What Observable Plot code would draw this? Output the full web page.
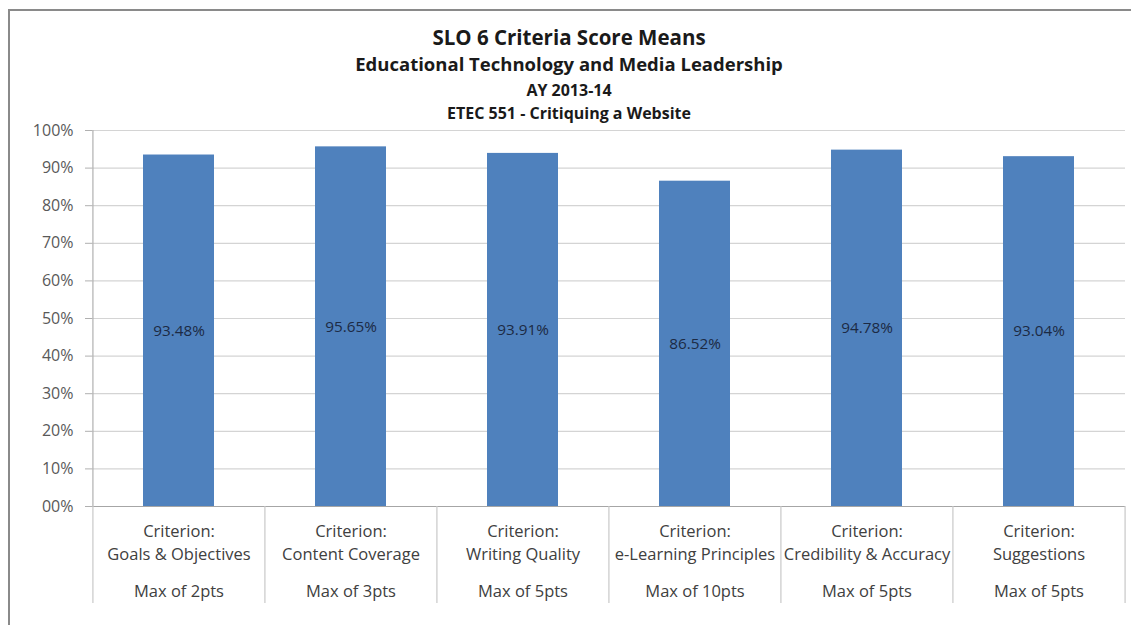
<!DOCTYPE html>
<html>
<head>
<meta charset="utf-8">
<script src="https://cdn.jsdelivr.net/npm/d3@7"></script>
<script src="https://cdn.jsdelivr.net/npm/@observablehq/plot@0.6"></script>
<style>
  html, body { margin: 0; padding: 0; background: #fff; }
  #wrap { position: relative; width: 1131px; height: 625px; overflow: hidden; font-family: "Open Sans", sans-serif; }
  #frame { position: absolute; left: 8px; top: 9px; width: 1200px; height: 700px; border-left: 2px solid #8a8a8a; border-top: 2px solid #8a8a8a; box-sizing: border-box; }
  .t { position: absolute; left: 0; width: 1138px; text-align: center; font-weight: bold; color: #1a1a1a; white-space: nowrap; line-height: 1; }
  #chart { position: absolute; left: 0; top: 0; }
</style>
</head>
<body>
<div id="wrap">
  <div id="frame"></div>
  <div id="chart"></div>
  <div class="t" style="top:27px;font-size:20.5px;">SLO 6 Criteria Score Means</div>
  <div class="t" style="top:55px;font-size:18.5px;">Educational Technology and Media Leadership</div>
  <div class="t" style="top:82px;font-size:16px;">AY 2013-14</div>
  <div class="t" style="top:105px;font-size:16px;">ETEC 551 - Critiquing a Website</div>
</div>
<script>
const criteria = ["Goals & Objectives", "Content Coverage", "Writing Quality", "e-Learning Principles", "Credibility & Accuracy", "Suggestions"];
const maxPoints = ["Max of 2pts", "Max of 3pts", "Max of 5pts", "Max of 10pts", "Max of 5pts", "Max of 5pts"];
const means = [0.9348, 0.9565, 0.9391, 0.8652, 0.9478, 0.9304];
const yTicks = [0, 0.1, 0.2, 0.3, 0.4, 0.5, 0.6, 0.7, 0.8, 0.9, 1.0];
const yTickLabels = ["00%", "10%", "20%", "30%", "40%", "50%", "60%", "70%", "80%", "90%", "100%"];

const data = criteria.map((c, i) => ({criterion: c, max: maxPoints[i], value: means[i]}));

const W = 1131, H = 625;
const mL = 92, mR = 6, mT = 130, mB = 119;
const step = (W - mL - mR) / criteria.length;
const belowDepth = -0.258; // extent of category dividers below the axis, in y units
const font = "'Open Sans', sans-serif";

const plot = Plot.plot({
  width: W,
  height: H,
  marginLeft: mL,
  marginRight: mR,
  marginTop: mT,
  marginBottom: mB,
  style: {fontFamily: font, background: "transparent", overflow: "visible"},
  x: {type: "band", domain: criteria, paddingInner: 0.59, paddingOuter: 0.295, axis: null},
  y: {domain: [0, 1], axis: null},
  marks: [
    Plot.ruleY(yTicks.slice(1), {stroke: "#d4d4d4", strokeWidth: 1.2}),
    Plot.barY(data, {x: "criterion", y: "value", fill: "#4f81bd"}),
    Plot.ruleY([0], {stroke: "#a6a6a6", strokeWidth: 1.2}),
    // category dividers (left edges) + final right edge
    Plot.ruleX(data, {x: "criterion", y1: 0, y2: belowDepth, dx: -step / 2, stroke: "#c8c8c8", strokeWidth: 1.2}),
    Plot.ruleX([criteria[criteria.length - 1]], {x: d => d, y1: 0, y2: belowDepth, dx: step / 2, stroke: "#c8c8c8", strokeWidth: 1.2}),
    // y axis line
    Plot.ruleX([criteria[0]], {x: d => d, y1: 0, y2: 1, dx: -step / 2, stroke: "#b0b0b0", strokeWidth: 1.2}),
    Plot.axisY({ticks: yTicks, tickFormat: (d, i) => yTickLabels[i], tickSize: 7, tickPadding: 12, fontSize: 16, color: "#595959", stroke: "#b0b0b0", label: null}),
    // data labels at bar centers
    Plot.text(data, {x: "criterion", y: d => d.value / 2, text: d => (d.value * 100).toFixed(2) + "%", fill: "#1c2a44", fontSize: 15.3}),
    // category labels
    Plot.text(data, {x: "criterion", frameAnchor: "bottom", dy: 14, text: d => "Criterion:\n" + d.criterion, lineHeight: 1.4, fill: "#404040", fontSize: 16.5, lineAnchor: "top"}),
    Plot.text(data, {x: "criterion", frameAnchor: "bottom", dy: 90, text: "max", fill: "#404040", fontSize: 16.5})
  ]
});
document.getElementById("chart").appendChild(plot);
</script>
</body>
</html>
